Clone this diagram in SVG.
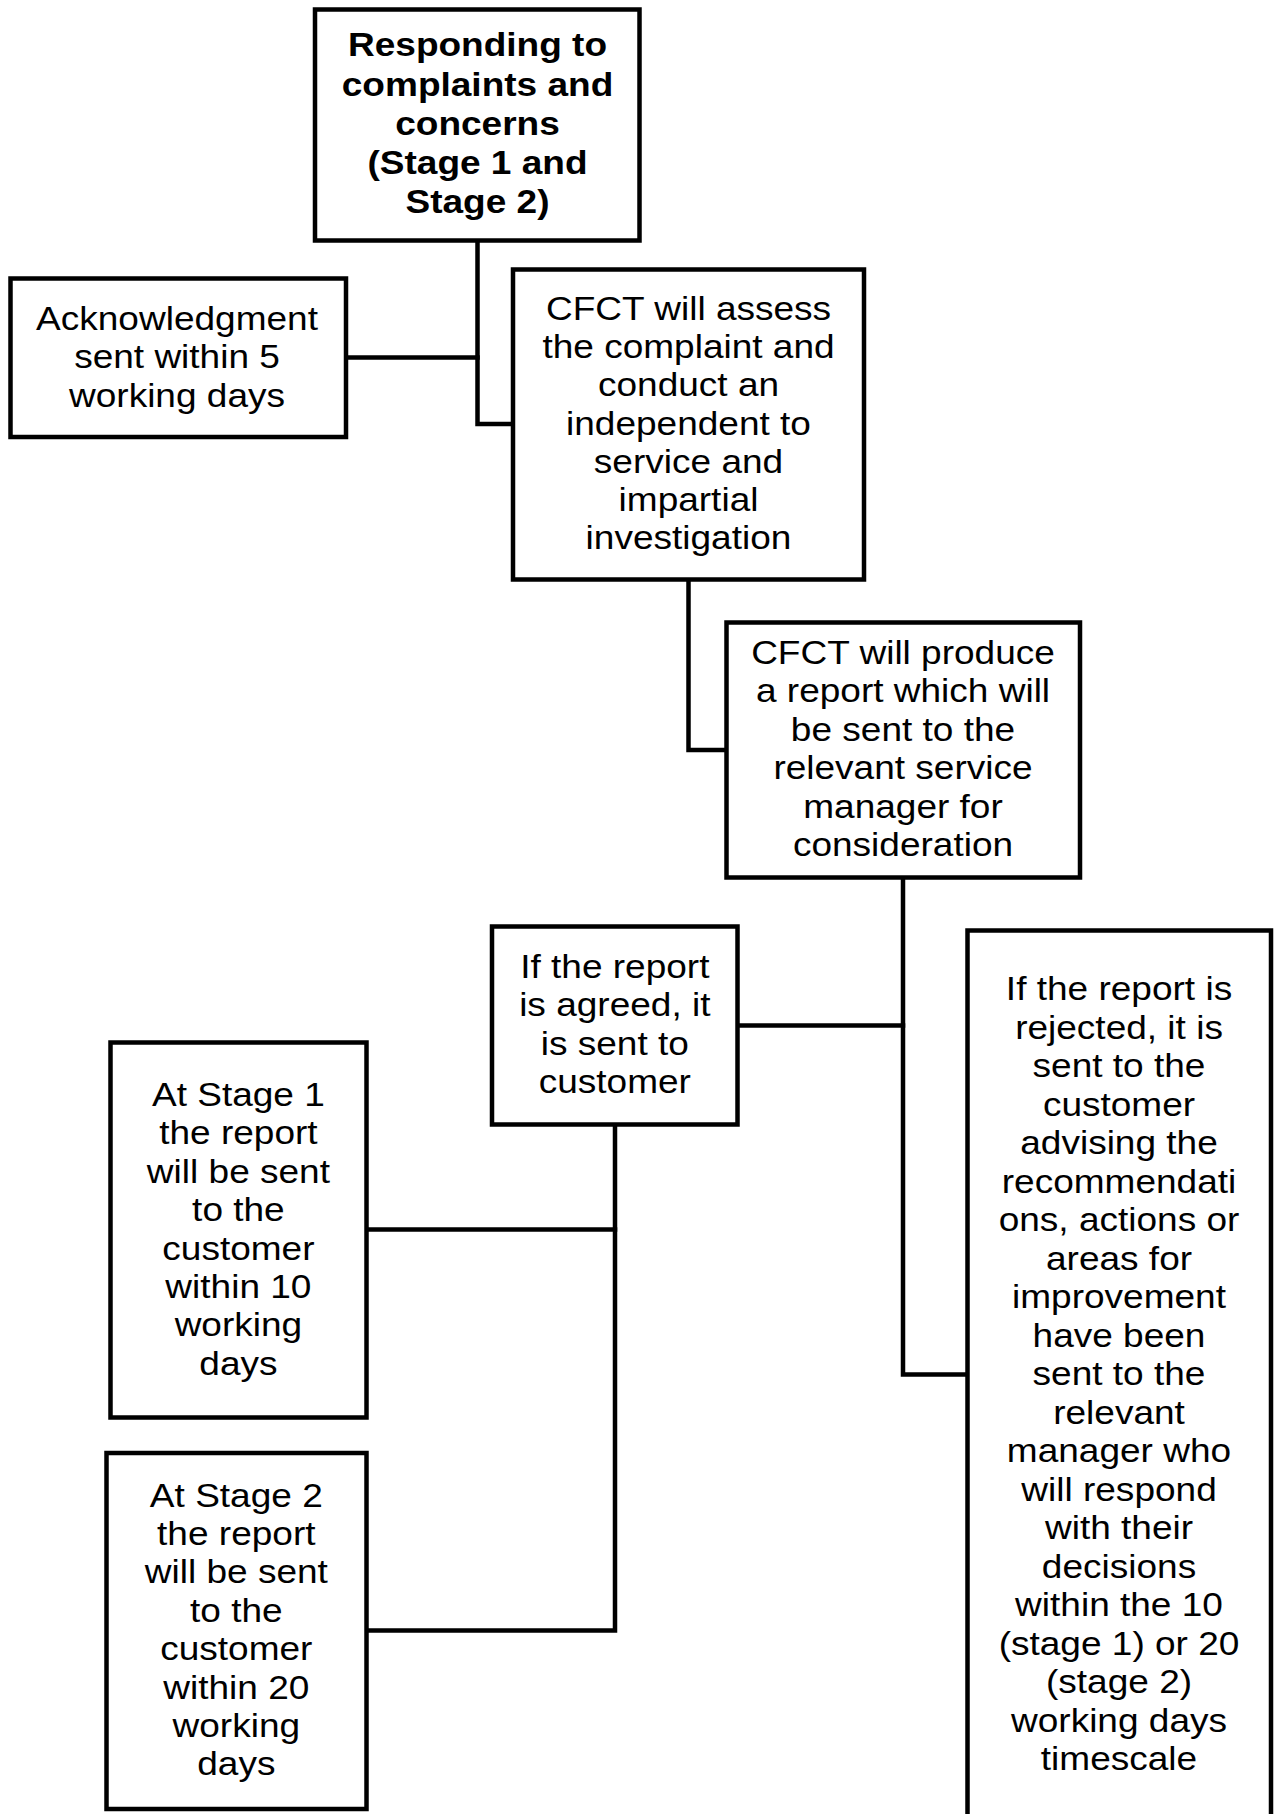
<svg xmlns="http://www.w3.org/2000/svg" width="1275" height="1814" viewBox="0 0 1275 1814">
<style>
.box{fill:#fff;stroke:#000;stroke-width:4.5;stroke-linejoin:miter}
.conn{fill:none;stroke:#000;stroke-width:4.5;stroke-linejoin:miter;stroke-linecap:square}
text{font-family:"Liberation Sans",Arial,sans-serif;font-size:33.5px;fill:#000;text-anchor:middle}
.b{font-weight:bold}
</style>
<rect width="1275" height="1814" fill="#fff"/>
<g id="connectors">
<polyline class="conn" points="477.5,242 477.5,424 511,424"/>
<line class="conn" x1="348" y1="357.5" x2="477.5" y2="357.5"/>
<polyline class="conn" points="688.5,581 688.5,750 724,750"/>
<polyline class="conn" points="903,879 903,1374.5 965,1374.5"/>
<line class="conn" x1="739" y1="1025.5" x2="903" y2="1025.5"/>
<polyline class="conn" points="368,1229.5 615,1229.5"/>
<polyline class="conn" points="615,1126 615,1630.5 368,1630.5"/>
</g>
<g id="n-title">
<rect class="box" x="315" y="9.5" width="324.5" height="231"/>
<text class="b" transform="translate(477.5 0) scale(1.105 1)"><tspan x="0" y="56.5">Responding to</tspan><tspan x="0" y="95.7">complaints and</tspan><tspan x="0" y="134.9">concerns</tspan><tspan x="0" y="174.1">(Stage 1 and</tspan><tspan x="0" y="213.3">Stage 2)</tspan></text>
</g>
<g id="n-ack">
<rect class="box" x="10.5" y="278.5" width="335.5" height="158.5"/>
<text transform="translate(177 0) scale(1.105 1)"><tspan x="0" y="330">Acknowledgment</tspan><tspan x="0" y="368.5">sent within 5</tspan><tspan x="0" y="407">working days</tspan></text>
</g>
<g id="n-assess">
<rect class="box" x="513" y="269.5" width="351" height="310"/>
<text transform="translate(688.5 0) scale(1.105 1)"><tspan x="0" y="320">CFCT will assess</tspan><tspan x="0" y="358.2">the complaint and</tspan><tspan x="0" y="396.4">conduct an</tspan><tspan x="0" y="434.6">independent to</tspan><tspan x="0" y="472.8">service and</tspan><tspan x="0" y="511">impartial</tspan><tspan x="0" y="549.2">investigation</tspan></text>
</g>
<g id="n-report">
<rect class="box" x="726.5" y="622.5" width="353.5" height="255"/>
<text transform="translate(903 0) scale(1.105 1)"><tspan x="0" y="664">CFCT will produce</tspan><tspan x="0" y="702.5">a report which will</tspan><tspan x="0" y="741">be sent to the</tspan><tspan x="0" y="779.5">relevant service</tspan><tspan x="0" y="818">manager for</tspan><tspan x="0" y="856.5">consideration</tspan></text>
</g>
<g id="n-agreed">
<rect class="box" x="492" y="926.5" width="245.5" height="198"/>
<text transform="translate(614.8 0) scale(1.105 1)"><tspan x="0" y="978">If the report</tspan><tspan x="0" y="1016.4">is agreed, it</tspan><tspan x="0" y="1054.8">is sent to</tspan><tspan x="0" y="1093.2">customer</tspan></text>
</g>
<g id="n-rejected">
<rect class="box" x="967.5" y="930.5" width="303.5" height="900"/>
<text transform="translate(1119 0) scale(1.105 1)"><tspan x="0" y="1000.5">If the report is</tspan><tspan x="0" y="1039">rejected, it is</tspan><tspan x="0" y="1077.5">sent to the</tspan><tspan x="0" y="1116">customer</tspan><tspan x="0" y="1154.5">advising the</tspan><tspan x="0" y="1193">recommendati</tspan><tspan x="0" y="1231.5">ons, actions or</tspan><tspan x="0" y="1270">areas for</tspan><tspan x="0" y="1308.5">improvement</tspan><tspan x="0" y="1347">have been</tspan><tspan x="0" y="1385.5">sent to the</tspan><tspan x="0" y="1424">relevant</tspan><tspan x="0" y="1462.5">manager who</tspan><tspan x="0" y="1501">will respond</tspan><tspan x="0" y="1539.5">with their</tspan><tspan x="0" y="1578">decisions</tspan><tspan x="0" y="1616.5">within the 10</tspan><tspan x="0" y="1655">(stage 1) or 20</tspan><tspan x="0" y="1693.5">(stage 2)</tspan><tspan x="0" y="1732">working days</tspan><tspan x="0" y="1770.5">timescale</tspan></text>
</g>
<g id="n-stage1">
<rect class="box" x="110.5" y="1042.5" width="256" height="375"/>
<text transform="translate(238.4 0) scale(1.105 1)"><tspan x="0" y="1106">At Stage 1</tspan><tspan x="0" y="1144.4">the report</tspan><tspan x="0" y="1182.8">will be sent</tspan><tspan x="0" y="1221.2">to the</tspan><tspan x="0" y="1259.6">customer</tspan><tspan x="0" y="1298">within 10</tspan><tspan x="0" y="1336.4">working</tspan><tspan x="0" y="1374.8">days</tspan></text>
</g>
<g id="n-stage2">
<rect class="box" x="106.5" y="1453" width="260" height="356"/>
<text transform="translate(236.3 0) scale(1.105 1)"><tspan x="0" y="1506.7">At Stage 2</tspan><tspan x="0" y="1545.1">the report</tspan><tspan x="0" y="1583.5">will be sent</tspan><tspan x="0" y="1621.9">to the</tspan><tspan x="0" y="1660.3">customer</tspan><tspan x="0" y="1698.7">within 20</tspan><tspan x="0" y="1737.1">working</tspan><tspan x="0" y="1775.5">days</tspan></text>
</g>
</svg>
